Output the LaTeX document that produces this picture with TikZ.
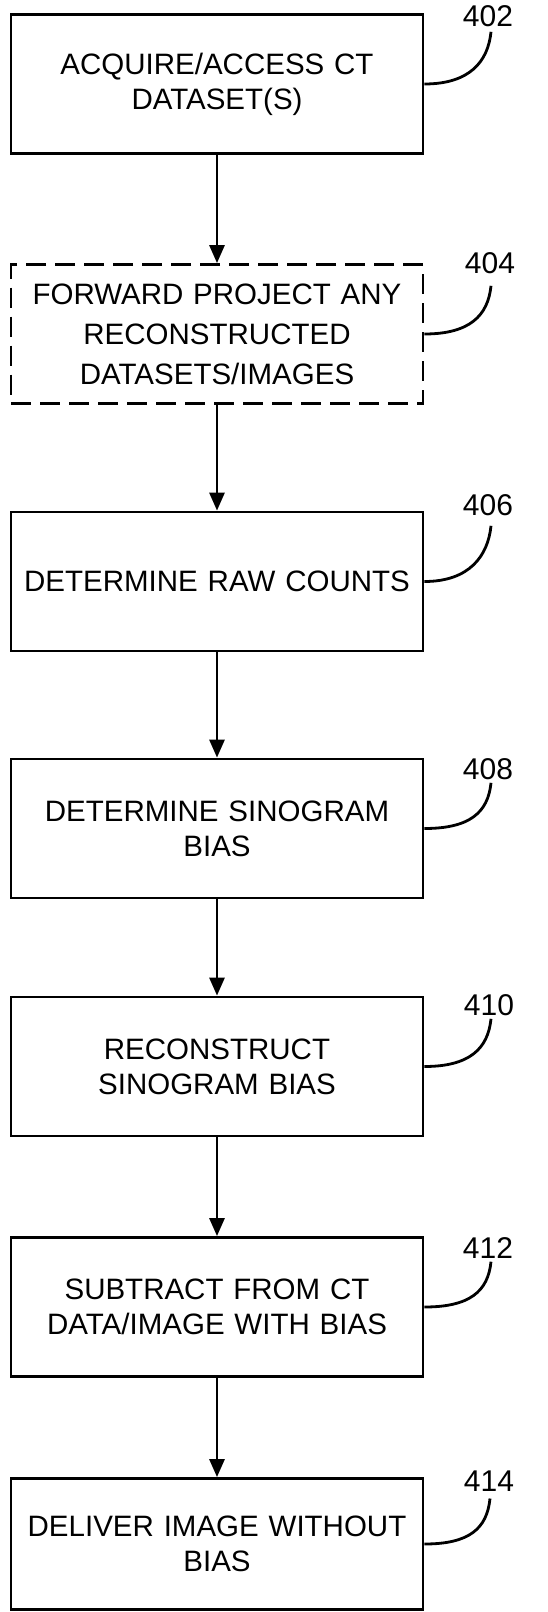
\documentclass[tikz,border=0pt]{standalone}
\usepackage{fontspec}
\setmainfont{Liberation Sans}
\usetikzlibrary{positioning,arrows.meta,calc}
\tikzset{>={Triangle[length=18pt,width=15pt]}}
\tikzset{
  stepbox/.style={draw, line width=2.8pt, minimum width=412pt, minimum height=139pt,
    text width=400pt, align=center, inner sep=0pt, font=\fontsize{29.5}{35}\selectfont},
  refnum/.style={inner sep=2pt, font=\fontsize{30}{30}\selectfont},
  lead/.style={line width=2.8pt}
}

\begin{document}
\begin{tikzpicture}[x=1pt, y=1pt]
      \useasboundingbox (0,0) rectangle (548,-1612);
      \node[stepbox] (b402) at (217,-84) {ACQUIRE/ACCESS CT\\DATASET(S)};
      \node[stepbox, dash pattern=on 20pt off 9pt, below of=b402, node distance=250pt, font=\fontsize{29.5}{40}\selectfont] (b404) {FORWARD PROJECT ANY\\RECONSTRUCTED\\DATASETS/IMAGES};
      \node[stepbox, below of=b404, node distance=247.5pt] (b406) {DETERMINE RAW COUNTS};
      \node[stepbox, below of=b406, node distance=247pt] (b408) {DETERMINE SINOGRAM\\BIAS};
      \node[stepbox, below of=b408, node distance=238pt] (b410) {RECONSTRUCT\\SINOGRAM BIAS};
      \node[stepbox, below of=b410, node distance=240.5pt] (b412) {SUBTRACT FROM CT\\DATA/IMAGE WITH BIAS};
      \node[stepbox, below of=b412, node distance=237pt, minimum height=131pt] (b414) {DELIVER IMAGE WITHOUT\\BIAS};
      % reference numbers
      \node[refnum] (l402) at (488,-16) {402};
      \node[refnum] (l404) at (490,-263) {404};
      \node[refnum] (l406) at (488,-505) {406};
      \node[refnum] (l408) at (488,-769) {408};
      \node[refnum] (l410) at (489,-1005) {410};
      \node[refnum] (l412) at (488,-1248) {412};
      \node[refnum] (l414) at (489,-1481) {414};
      \draw[lead] (b402.east) .. controls +(45,0) and +(-3,-30) .. ($(l402.south)+(3,-3)$);
      \draw[lead] (b404.east) .. controls +(45,0) and +(-3,-30) .. ($(l404.south)+(1,-10)$);
      \draw[lead] (b406.east) .. controls +(45,0) and +(-3,-30) .. ($(l406.south)+(3,-8)$);
      \draw[lead] (b408.east) .. controls +(45,0) and +(-3,-30) .. ($(l408.south)+(3,-1)$);
      \draw[lead] (b410.east) .. controls +(45,0) and +(-3,-30) .. ($(l410.south)+(2,-1)$);
      \draw[lead] (b412.east) .. controls +(45,0) and +(-3,-30) .. ($(l412.south)+(3,-1)$);
      \draw[lead] (b414.east) .. controls +(45,0) and +(-3,-30) .. ($(l414.south)+(1,-5)$);
      % flow
      \draw[->, lead] (b402) -- (b404);
      \draw[->, lead] (b404) -- (b406);
      \draw[->, lead] (b406) -- (b408);
      \draw[->, lead] (b408) -- (b410);
      \draw[->, lead] (b410) -- (b412);
      \draw[->, lead] (b412) -- (b414);
    \end{tikzpicture}
\end{document}
